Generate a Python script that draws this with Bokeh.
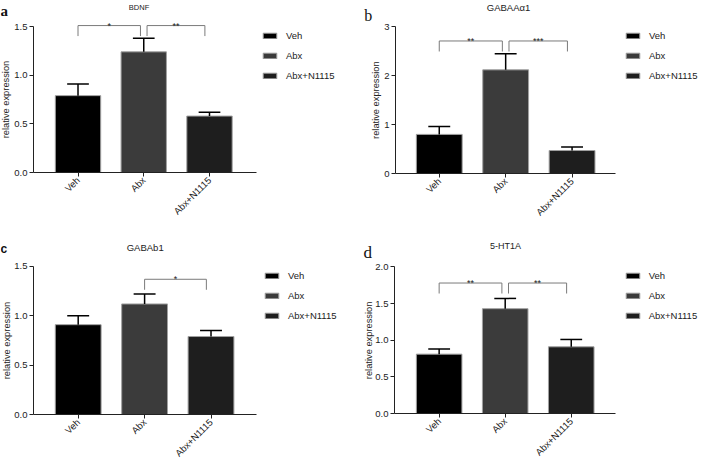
import math
from bokeh.plotting import figure
from bokeh.models import (ColumnDataSource, Label, Legend, LegendItem, FixedTicker,
                          Range1d, NumeralTickFormatter, LinearAxis)
from bokeh.layouts import row, column
from bokeh.embed import file_html
from bokeh.resources import INLINE

# ---------------- data ----------------
groups = ["Veh", "Abx", "Abx+N1115"]

bdnf_mean = [0.79, 1.24, 0.58]
bdnf_sem = [0.12, 0.14, 0.04]

gabaa_mean = [0.80, 2.12, 0.47]
gabaa_sem = [0.16, 0.33, 0.07]

gabab_mean = [0.91, 1.12, 0.79]
gabab_sem = [0.09, 0.10, 0.06]

ht1a_mean = [0.81, 1.43, 0.91]
ht1a_sem = [0.07, 0.14, 0.10]

# significance: (group i, group j, bracket level, marker)
bdnf_sig = [(0, 1, 1.51, "*"), (1, 2, 1.51, "**")]
gabaa_sig = [(0, 1, 2.71, "**"), (1, 2, 2.71, "***")]
gabab_sig = [(1, 2, 1.37, "*")]
ht1a_sig = [(0, 1, 1.78, "**"), (1, 2, 1.78, "**")]

bdnf_ticks = [0, 0.5, 1.0, 1.5]
gabaa_ticks = [0, 1, 2, 3]
gabab_ticks = [0, 0.5, 1.0, 1.5]
ht1a_ticks = [0, 0.5, 1.0, 1.5, 2.0]

# ---------------- style ----------------
bar_colors = ["#000000", "#3b3b3b", "#1e1e1e"]
SANS = "Liberation Sans"
SERIF = "Liberation Serif"
TXT = "#222222"


def panel(W, H, ax_left, ax_right, x_lo, x_hi, y_zero, ppu,
          mean, sem, sig, ticks, fmt,
          letter, letter_font, letter_size, letter_style, letter_pos,
          title, title_size, title_pos, ylab_pos, legend_pos):
    ppx = (ax_right - ax_left) / (x_hi - x_lo)
    xs0 = x_lo - ax_left / ppx
    ys0 = -(H - y_zero) / ppu
    p = figure(width=W, height=H, output_backend="svg", toolbar_location=None,
               x_range=Range1d(xs0, xs0 + W / ppx), y_range=Range1d(ys0, ys0 + H / ppu),
               x_axis_location=None, y_axis_location=None, min_border=0)
    p.outline_line_color = None
    p.grid.visible = False
    p.background_fill_color = "white"
    p.border_fill_color = "white"

    xs = list(range(len(groups)))
    src = ColumnDataSource(dict(
        x=xs, top=mean, err=[m + s for m, s in zip(mean, sem)],
        capl=[x - 0.165 for x in xs], capr=[x + 0.165 for x in xs],
        color=bar_colors, group=groups))
    bars = p.vbar(x="x", top="top", bottom=0, width=0.69, fill_color="color",
                  line_color="#a0a0a0", line_width=1, source=src)
    p.segment(x0="x", y0="top", x1="x", y1="err", line_color="#000000",
              line_width=1.5, source=src)
    p.segment(x0="capl", y0="err", x1="capr", y1="err", line_color="#000000",
              line_width=1.5, source=src)

    # significance brackets
    drop = 10.5 / ppu
    for (i, j, lvl, mark) in sig:
        x0 = i + (0.05 if i == 1 and len(sig) > 1 else 0.0)
        x1 = j - (0.05 if j == 1 else 0.07)
        p.line(x=[x0, x0, x1, x1], y=[lvl - drop, lvl, lvl, lvl - drop],
               line_color="#7a7a7a", line_width=1)
        p.text(x=[(x0 + x1) / 2], y=[lvl], text=[mark], text_align="center",
               text_baseline="alphabetic", text_font_size="9px",
               text_color=TXT, y_offset=0, text_font={"value": SANS})

    # axes, drawn at fixed data locations
    xax = LinearAxis(fixed_location=0, bounds=(x_lo, x_hi))
    xax.ticker = FixedTicker(ticks=xs)
    xax.major_label_overrides = {x: g for x, g in zip(xs, groups)}
    xax.major_label_orientation = math.pi / 4
    yax = LinearAxis(fixed_location=x_lo, bounds=(0, ticks[-1]))
    yax.ticker = FixedTicker(ticks=ticks)
    yax.formatter = NumeralTickFormatter(format=fmt)
    for ax in (xax, yax):
        ax.axis_line_color = TXT
        ax.axis_line_width = 1
        ax.major_tick_line_color = TXT
        ax.major_tick_out = 4
        ax.major_tick_in = 0
        ax.minor_tick_out = 0
        ax.minor_tick_in = 0
        ax.major_label_text_font = SANS
        ax.major_label_text_font_size = "9.5px"
        ax.major_label_text_color = TXT
        ax.major_label_standoff = 2
    p.add_layout(xax, "below")
    p.add_layout(yax, "left")

    # y-axis label
    p.add_layout(Label(x=ylab_pos[0], y=H - ylab_pos[1], x_units="screen",
                       y_units="screen", text="relative expression", angle=math.pi / 2,
                       text_align="center", text_baseline="middle",
                       text_font=SANS, text_font_size="9.3px", text_color=TXT))
    # title
    p.add_layout(Label(x=title_pos[0], y=H - title_pos[1], x_units="screen",
                       y_units="screen", text=title, text_align="center",
                       text_baseline="middle", text_font=SANS,
                       text_font_size=title_size, text_color=TXT))
    # panel letter
    p.add_layout(Label(x=letter_pos[0], y=H - letter_pos[1], x_units="screen",
                       y_units="screen", text=letter, text_align="left",
                       text_baseline="alphabetic", text_font=letter_font,
                       text_font_size=letter_size, text_font_style=letter_style,
                       text_color="#111111"))

    # legend
    items = [LegendItem(label=g, renderers=[bars], index=k) for k, g in enumerate(groups)]
    leg = Legend(items=items, location=(legend_pos[0], H - legend_pos[1] - 60),
                 orientation="vertical", glyph_width=17, glyph_height=7,
                 label_height=20, spacing=0, padding=0, margin=0, label_standoff=8,
                 border_line_color=None, background_fill_alpha=0,
                 label_text_font=SANS, label_text_font_size="9.5px",
                 label_text_color=TXT, label_text_baseline="middle")
    p.add_layout(leg)
    return p


# panel geometry is in pixels inside each 349/353 x 232 figure
pa = panel(349, 232, 33, 256, -0.677, 2.715, 172, 97.3,
           bdnf_mean, bdnf_sem, bdnf_sig, bdnf_ticks, "0.0",
           "a", SERIF, "15px", "bold", (0, 10),
           "BDNF", "7.5px", (138.5, 6.5), (5.5, 99), (261, 25))
pb = panel(353, 232, 46, 266, -0.659, 2.654, 173, 48.9,
           gabaa_mean, gabaa_sem, gabaa_sig, gabaa_ticks, "0",
           "b", SERIF, "16px", "normal", (14.7, 15),
           "GABAA\u03b11", "9.5px", (159, 7), (26.5, 99.7), (275, 25))
pc = panel(349, 232, 33, 256, -0.673, 2.685, 182, 98.7,
           gabab_mean, gabab_sem, gabab_sig, gabab_ticks, "0.0",
           "c", SANS, "12px", "bold", (0, 16.3),
           "GABAb1", "9.5px", (144.7, 14.5), (6, 108), (263, 33.7))
pd_ = panel(353, 232, 45, 266, -0.676, 2.67, 181, 73.3,
            ht1a_mean, ht1a_sem, ht1a_sig, ht1a_ticks, "0.0",
            "d", SERIF, "17px", "normal", (14, 19.7),
            "5-HT1A", "9px", (156, 13), (19, 107.9), (274.7, 33.7))

layout = column(row(pa, pb), row(pc, pd_))
open("out.html", "w").write(file_html(layout, INLINE))
